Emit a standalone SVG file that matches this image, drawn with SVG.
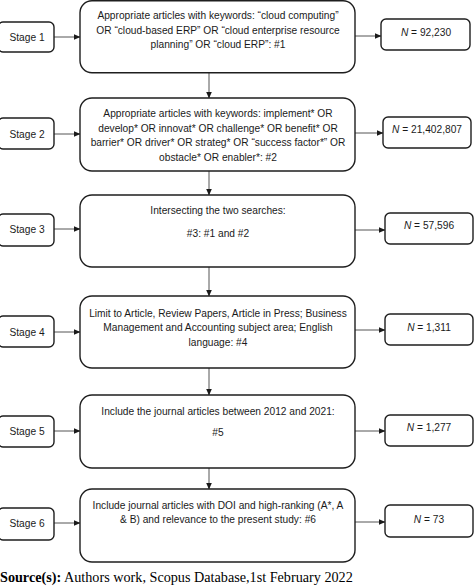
<svg xmlns="http://www.w3.org/2000/svg" width="474" height="588" viewBox="0 0 474 588">
<defs>
<marker id="ah" markerWidth="7" markerHeight="6" refX="6.5" refY="3" orient="auto" markerUnits="userSpaceOnUse">
<path d="M0,0 L7,3 L0,6 Z" fill="#1a1a1a"/>
</marker>
<style>
.box{fill:#fff;stroke:#1e1e1e;stroke-width:1.4}
.t{font-family:"Liberation Sans",Arial,sans-serif;font-size:10.2px;fill:#1a1a1a;text-anchor:middle}
.c{stroke:#555;stroke-width:1;fill:none;marker-end:url(#ah)}
.src{font-family:"Liberation Serif","Times New Roman",serif;font-size:14.2px;fill:#000}
</style>
</defs>
<rect width="474" height="588" fill="#fff"/>

<g id="connectors">
<line class="c" x1="54" y1="37" x2="80" y2="37"/>
<line class="c" x1="355" y1="36" x2="381" y2="36"/>
<line class="c" x1="209" y1="73" x2="209" y2="98"/>
<line class="c" x1="54" y1="134" x2="80" y2="134"/>
<line class="c" x1="355" y1="133" x2="383" y2="133"/>
<line class="c" x1="209" y1="171" x2="209" y2="195"/>
<line class="c" x1="54" y1="229" x2="80" y2="229"/>
<line class="c" x1="355" y1="230" x2="385" y2="230"/>
<line class="c" x1="209" y1="267" x2="209" y2="296"/>
<line class="c" x1="54" y1="332" x2="80" y2="332"/>
<line class="c" x1="355" y1="330" x2="385" y2="330"/>
<line class="c" x1="209" y1="368" x2="209" y2="395"/>
<line class="c" x1="54" y1="431" x2="80" y2="431"/>
<line class="c" x1="355" y1="431" x2="385" y2="431"/>
<line class="c" x1="209" y1="468" x2="209" y2="489"/>
<line class="c" x1="54" y1="523" x2="80" y2="523"/>
<line class="c" x1="355" y1="522" x2="385" y2="522"/>
</g>

<g id="stage1"><rect class="box" x="-2" y="22" width="56" height="30" rx="5"/><text class="t" x="27" y="41">Stage 1</text></g>
<g id="stage2"><rect class="box" x="-2" y="118" width="56" height="31" rx="5"/><text class="t" x="27" y="138">Stage 2</text></g>
<g id="stage3"><rect class="box" x="-2" y="214" width="56" height="32" rx="5"/><text class="t" x="27" y="233">Stage 3</text></g>
<g id="stage4"><rect class="box" x="-2" y="316" width="56" height="31" rx="5"/><text class="t" x="27" y="336">Stage 4</text></g>
<g id="stage5"><rect class="box" x="-2" y="416" width="56" height="31" rx="5"/><text class="t" x="27" y="435">Stage 5</text></g>
<g id="stage6"><rect class="box" x="-2" y="508" width="56" height="32" rx="5"/><text class="t" x="27" y="527">Stage 6</text></g>

<g id="box1"><rect class="box" x="80" y="0.7" width="275" height="72" rx="12"/>
<text class="t" x="218" y="19">Appropriate articles with keywords: “cloud computing”</text>
<text class="t" x="218" y="34">OR “cloud-based ERP” OR “cloud enterprise resource</text>
<text class="t" x="218" y="48">planning” OR “cloud ERP”: #1</text></g>

<g id="box2"><rect class="box" x="80" y="98" width="275" height="73" rx="12"/>
<text class="t" x="218" y="117">Appropriate articles with keywords: implement* OR</text>
<text class="t" x="218" y="132">develop* OR innovat* OR challenge* OR benefit* OR</text>
<text class="t" x="218" y="146">barrier* OR driver* OR strateg* OR “success factor*” OR</text>
<text class="t" x="218" y="161">obstacle* OR enabler*: #2</text></g>

<g id="box3"><rect class="box" x="80" y="195" width="275" height="72" rx="12"/>
<text class="t" x="218" y="214">Intersecting the two searches:</text>
<text class="t" x="218" y="237">#3: #1 and #2</text></g>

<g id="box4"><rect class="box" x="80" y="296" width="275" height="72" rx="12"/>
<text class="t" x="218" y="317">Limit to Article, Review Papers, Article in Press; Business</text>
<text class="t" x="218" y="331">Management and Accounting subject area; English</text>
<text class="t" x="218" y="346">language: #4</text></g>

<g id="box5"><rect class="box" x="80" y="395" width="275" height="73" rx="12"/>
<text class="t" x="218" y="415">Include the journal articles between 2012 and 2021:</text>
<text class="t" x="218" y="436">#5</text></g>

<g id="box6"><rect class="box" x="80" y="489" width="275" height="73" rx="12"/>
<text class="t" x="218" y="509">Include journal articles with DOI and high-ranking (A*, A</text>
<text class="t" x="218" y="523">&amp; B) and relevance to the present study: #6</text></g>

<g id="n1"><rect class="box" x="381" y="19" width="89" height="31" rx="5"/><text class="t" x="426" y="36"><tspan font-style="italic">N</tspan> = 92,230</text></g>
<g id="n2"><rect class="box" x="383" y="117" width="88" height="31" rx="5"/><text class="t" x="427" y="133"><tspan font-style="italic">N</tspan> = 21,402,807</text></g>
<g id="n3"><rect class="box" x="385" y="213" width="88" height="31" rx="5"/><text class="t" x="429" y="229"><tspan font-style="italic">N</tspan> = 57,596</text></g>
<g id="n4"><rect class="box" x="385" y="314" width="88" height="31" rx="5"/><text class="t" x="429" y="331"><tspan font-style="italic">N</tspan> = 1,311</text></g>
<g id="n5"><rect class="box" x="385" y="415" width="88" height="31" rx="5"/><text class="t" x="429" y="431"><tspan font-style="italic">N</tspan> = 1,277</text></g>
<g id="n6"><rect class="box" x="385" y="505" width="88" height="32" rx="5"/><text class="t" x="429" y="523"><tspan font-style="italic">N</tspan> = 73</text></g>

<text class="src" x="0" y="582"><tspan font-weight="bold">Source(s):</tspan> Authors work, Scopus Database,1st February 2022</text>
</svg>
